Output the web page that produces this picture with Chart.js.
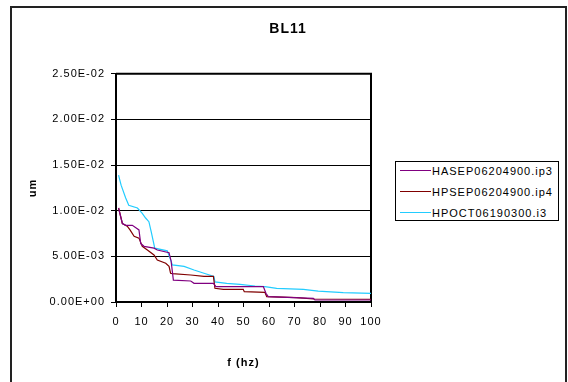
<!DOCTYPE html>
<html>
<head>
<meta charset="utf-8">
<script src="https://cdn.jsdelivr.net/npm/chart.js@4.4.1/dist/chart.umd.min.js"></script>
<style>
  html, body { margin: 0; padding: 0; background: #fff; }
  #wrap { position: relative; width: 568px; height: 382px; overflow: hidden; }
  #legend { position: absolute; left: 395px; top: 161px; width: 164px; height: 60px; box-sizing: border-box;
            border: 1px solid #000; background: #fff; font: 11px 'Liberation Sans', Arial, sans-serif; letter-spacing: 1px; color: #000; }
  .row { position: absolute; left: 0; height: 14px; width: 100%; }
  .swatch { position: absolute; left: 4px; width: 31px; height: 1.3px; top: 6px; }
  .lbl { position: absolute; left: 36px; top: 0; line-height: 14px; white-space: nowrap; }
</style>
</head>
<body>
<div id="wrap"><canvas id="c" width="568" height="382"></canvas><div id="legend"></div></div>
<script>
// ---- data ----
const chartTitle = 'BL11';
const xTitle = 'f (hz)';
const yTitle = 'um';
const seriesNames = ['HASEP06204900.ip3', 'HPSEP06204900.ip4', 'HPOCT06190300.i3'];
const seriesColors = ['#800080', '#800000', '#22CCFF'];

const hasepX = [1, 2.5, 3.8, 6.4, 9, 9.7, 11, 14.9, 16.2, 20.8, 21.6, 22.5, 29.3, 30.6, 38.2, 39.2, 57.8, 58.8, 59.7, 77.4, 78, 100];
const hasepY = [0.0103, 0.0086, 0.0084, 0.0084, 0.0079, 0.0064, 0.0061, 0.0059, 0.0057, 0.0054, 0.0045, 0.0024, 0.0023, 0.00205, 0.00205, 0.00168, 0.00168, 0.00095, 0.00058, 0.0004, 0.00022, 0.00022];

const hpsepX = [1, 2.5, 4.4, 5.5, 7.1, 9, 10.3, 12.3, 14.9, 16.2, 19.5, 20.8, 21.4, 22.1, 29.3, 34.5, 38.2, 38.8, 42.1, 49.9, 50.3, 58.4, 59.1, 70.9, 77.4, 100];
const hpsepY = [0.0103, 0.0086, 0.0083, 0.0079, 0.0072, 0.0070, 0.0061, 0.0057, 0.00515, 0.0046, 0.00424, 0.0039, 0.00315, 0.0031, 0.00296, 0.0028, 0.0028, 0.0015, 0.00139, 0.00139, 0.00113, 0.00106, 0.00058, 0.00047, 0.00033, 0.0003];

const hpoctX = [1, 2, 3.8, 5, 8.4, 10.3, 11.6, 12.9, 13.8, 15.2, 20.1, 21.7, 22.1, 26.7, 30.6, 34.5, 38.4, 38.8, 43.4, 48.6, 54.5, 58.4, 63, 73.5, 79.3, 89.1, 100];
const hpoctY = [0.0139, 0.0128, 0.0114, 0.0106, 0.0103, 0.0097, 0.0092, 0.0088, 0.0077, 0.0059, 0.0056, 0.0044, 0.00406, 0.0039, 0.0035, 0.00315, 0.0028, 0.0022, 0.00205, 0.00194, 0.00175, 0.00168, 0.0015, 0.00139, 0.0012, 0.00102, 0.00095];

const xMin = 0, xMax = 100, xStep = 10;
const yMin = 0, yMax = 0.025, yStep = 0.005;

// ---- helpers ----
function pts(xs, ys) { return xs.map((x, i) => ({ x: x, y: ys[i] })); }
function sci(v) {
  if (Math.abs(v) < 1e-12) return '0.00E+00';
  const e = Math.floor(Math.log10(Math.abs(v)) + 1e-9);
  const m = v / Math.pow(10, e);
  return m.toFixed(2) + 'E' + (e < 0 ? '-' : '+') + String(Math.abs(e)).padStart(2, '0');
}

const FONT = "'Liberation Sans', Arial, sans-serif";
Chart.defaults.font.family = FONT;
Chart.defaults.font.size = 11;
Chart.defaults.color = '#000';

const decor = {
  id: 'decor',
  beforeUpdate(chart) { chart.ctx.letterSpacing = '1px'; },
  beforeLayout(chart) { chart.ctx.letterSpacing = '1px'; },
  beforeDraw(chart) {
    const ctx = chart.ctx;
    ctx.letterSpacing = '1px';
    ctx.save();
    ctx.fillStyle = '#fff';
    ctx.fillRect(0, 0, chart.width, chart.height);
    ctx.strokeStyle = '#222';
    ctx.lineWidth = 2;
    ctx.strokeRect(11, 7, 555, 400);
    ctx.restore();
  },
  beforeDatasetsDraw(chart) {
    const a = chart.chartArea, ctx = chart.ctx;
    ctx.save();
    ctx.strokeStyle = '#000';
    ctx.lineWidth = 2;
    ctx.beginPath();
    ctx.moveTo(a.left, a.top);
    ctx.lineTo(a.right, a.top);
    ctx.lineTo(a.right, a.bottom);
    ctx.stroke();
    ctx.restore();
  }
};

const datasets = [
  { label: seriesNames[0], data: pts(hasepX, hasepY), borderColor: seriesColors[0], backgroundColor: seriesColors[0] },
  { label: seriesNames[1], data: pts(hpsepX, hpsepY), borderColor: seriesColors[1], backgroundColor: seriesColors[1] },
  { label: seriesNames[2], data: pts(hpoctX, hpoctY), borderColor: seriesColors[2], backgroundColor: seriesColors[2] }
];

new Chart(document.getElementById('c'), {
  type: 'line',
  data: { datasets: datasets },
  options: {
    responsive: false,
    animation: false,
    devicePixelRatio: 1,
    layout: { padding: { left: 8, top: 0, right: 0, bottom: 0 } },
    elements: {
      line: { borderWidth: 1.2, tension: 0, fill: false },
      point: { radius: 0, hoverRadius: 0 }
    },
    plugins: {
      title: {
        display: true, text: chartTitle,
        font: { size: 14, weight: 'bold', family: FONT },
        color: '#000',
        padding: { top: 21, bottom: 36 }
      },
      legend: { display: false },
      tooltip: { enabled: false }
    },
    scales: {
      x: {
        type: 'linear', min: xMin, max: xMax,
        afterFit(s) { s.height = 80; },
        ticks: { stepSize: xStep, padding: 8, color: '#000', font: { size: 11 }, maxRotation: 0 },
        grid: { display: true, drawOnChartArea: false, drawTicks: true, tickLength: 5, color: '#000', lineWidth: 1 },
        border: { display: true, color: '#000', width: 2 },
        title: { display: true, text: xTitle, color: '#000', font: { size: 11, weight: 'bold' }, padding: { top: 0, bottom: 12 } }
      },
      y: {
        type: 'linear', min: yMin, max: yMax,
        afterFit(s) { s.width = 108; },
        ticks: { stepSize: yStep, padding: 6, color: '#000', font: { size: 11 }, callback: (v) => sci(v) },
        grid: { display: true, drawOnChartArea: true, drawTicks: true, tickLength: 5, color: '#000', lineWidth: 1 },
        border: { display: true, color: '#000', width: 2 },
        title: { display: true, text: yTitle, color: '#000', font: { size: 11, weight: 'bold' }, padding: { top: 18, bottom: 0 } }
      },
      gap: {
        type: 'linear', position: 'right', display: true,
        afterFit(s) { s.width = 197; },
        ticks: { display: false },
        grid: { display: false, drawTicks: false },
        border: { display: false }
      }
    }
  },
  plugins: [decor]
});

// legend (real text) built from the series names and colours
const lg = document.getElementById('legend');
seriesNames.forEach((name, i) => {
  const row = document.createElement('div');
  row.className = 'row';
  row.style.top = (2 + i * 21) + 'px';
  const sw = document.createElement('div');
  sw.className = 'swatch';
  sw.style.background = seriesColors[i];
  const t = document.createElement('span');
  t.className = 'lbl';
  t.textContent = name;
  row.appendChild(sw);
  row.appendChild(t);
  lg.appendChild(row);
});
</script>
</body>
</html>
